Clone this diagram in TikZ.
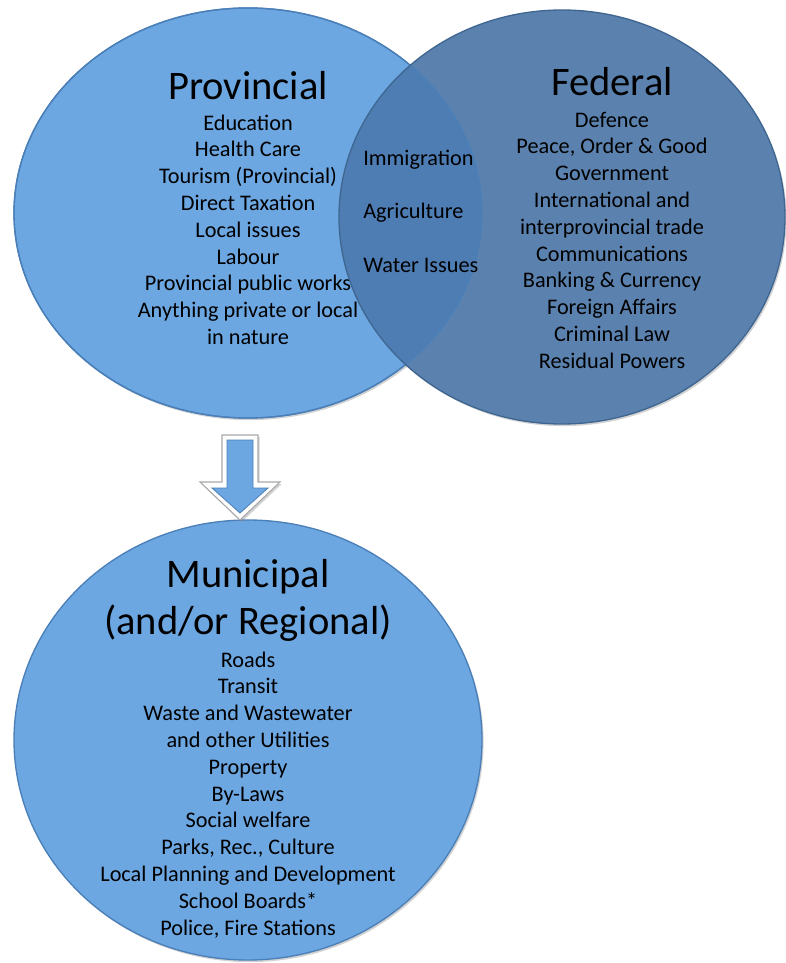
\documentclass[tikz,border=0pt]{standalone}
\usepackage{fontspec}
\setmainfont{Carlito}
\usetikzlibrary{shadows}
\definecolor{provblue}{HTML}{6CA7E2}
\definecolor{fedblue}{HTML}{5B82AF}
\definecolor{overblue}{HTML}{4E7DB5}
\definecolor{rimprov}{HTML}{4A7FB8}
\definecolor{rimfed}{HTML}{3F6690}
\definecolor{bevel}{HTML}{A8A8A8}
\tikzset{
  itemtext/.style={align=center, anchor=base, inner sep=0pt,
    font=\fontsize{16.7pt}{20.1pt}\selectfont},
  titletext/.style={align=center, anchor=base, inner sep=0pt,
    font=\fontsize{30.4pt}{35.25pt}\selectfont},
  overtext/.style={align=left, anchor=base west, inner sep=0pt,
    font=\fontsize{16.7pt}{20.1pt}\selectfont},
  softshadow/.style={drop shadow={opacity=0.35, shadow xshift=1.2pt, shadow yshift=-1.6pt}},
}
\begin{document}
\begin{tikzpicture}[x=0.75pt, y=-0.75pt]
\useasboundingbox (0,0) rectangle (785,963);
\fill[white] (0,0) rectangle (785,963);

% Provincial ellipse
\fill[provblue, softshadow] (248,213) ellipse [x radius=234, y radius=205];
\draw[rimprov, line width=1pt] (248,213) ellipse [x radius=234, y radius=205];

% Provincial texts (partly covered by the federal ellipse)
\node[titletext] (provtitle) at (248,100) {Provincial};
\node[itemtext] (provitems) at (248,344.4) {Education\\Health Care\\Tourism (Provincial)\\Direct Taxation\\Local issues\\Labour\\Provincial public works\\Anything private or local\\in nature};

% Federal ellipse
\fill[fedblue, softshadow] (562,217) ellipse [x radius=223, y radius=207];
% Overlap
\begin{scope}
  \clip (248,213) ellipse [x radius=234, y radius=205];
  \fill[overblue, opacity=0.96] (562,217) ellipse [x radius=223, y radius=207];
\end{scope}
\draw[rimprov, line width=1pt] (248,213) ellipse [x radius=234, y radius=205];
\draw[rimfed, line width=1pt] (562,217) ellipse [x radius=223, y radius=207];

% Municipal ellipse
\fill[provblue, softshadow] (248,740) ellipse [x radius=234, y radius=220];
\draw[rimprov, line width=1pt] (248,740) ellipse [x radius=234, y radius=220];

% Arrow
\coordinate (arrowtop) at (240,435);
\coordinate (arrowtip) at (240,520);
\filldraw[fill=white, draw=bevel, line width=0.8pt, softshadow]
  (222,435) -- (258,435) -- (258,482) -- (280,482) -- (arrowtip) -- (200,482) -- (222,482) -- cycle;
\filldraw[fill=provblue, draw=rimprov, line width=0.6pt]
  (227,440) -- (253,440) -- (253,488) -- (268,488) -- (240,513) -- (212,488) -- (227,488) -- cycle;

% Federal texts
\node[titletext] (fedtitle) at (612,96) {Federal};
\node[itemtext] (feditems) at (612,368.2) {Defence\\Peace, Order \& Good\\Government\\International and\\interprovincial trade\\Communications\\Banking \& Currency\\Foreign Affairs\\Criminal Law\\Residual Powers};

% Shared
\node[overtext] (immig) at (363,166) {Immigration};
\node[overtext] (agri) at (363,218) {Agriculture};
\node[overtext] (water) at (363,272) {Water Issues};

% Municipal texts
\node[titletext] (muntitle) at (248,634) {Municipal\\(and/or Regional)};
\node[itemtext] (munitems) at (248,935) {Roads\\Transit\\Waste and Wastewater\\and other Utilities\\Property\\By-Laws\\Social welfare\\Parks, Rec., Culture\\Local Planning and Development\\School Boards*\\Police, Fire Stations};
\end{tikzpicture}
\end{document}
